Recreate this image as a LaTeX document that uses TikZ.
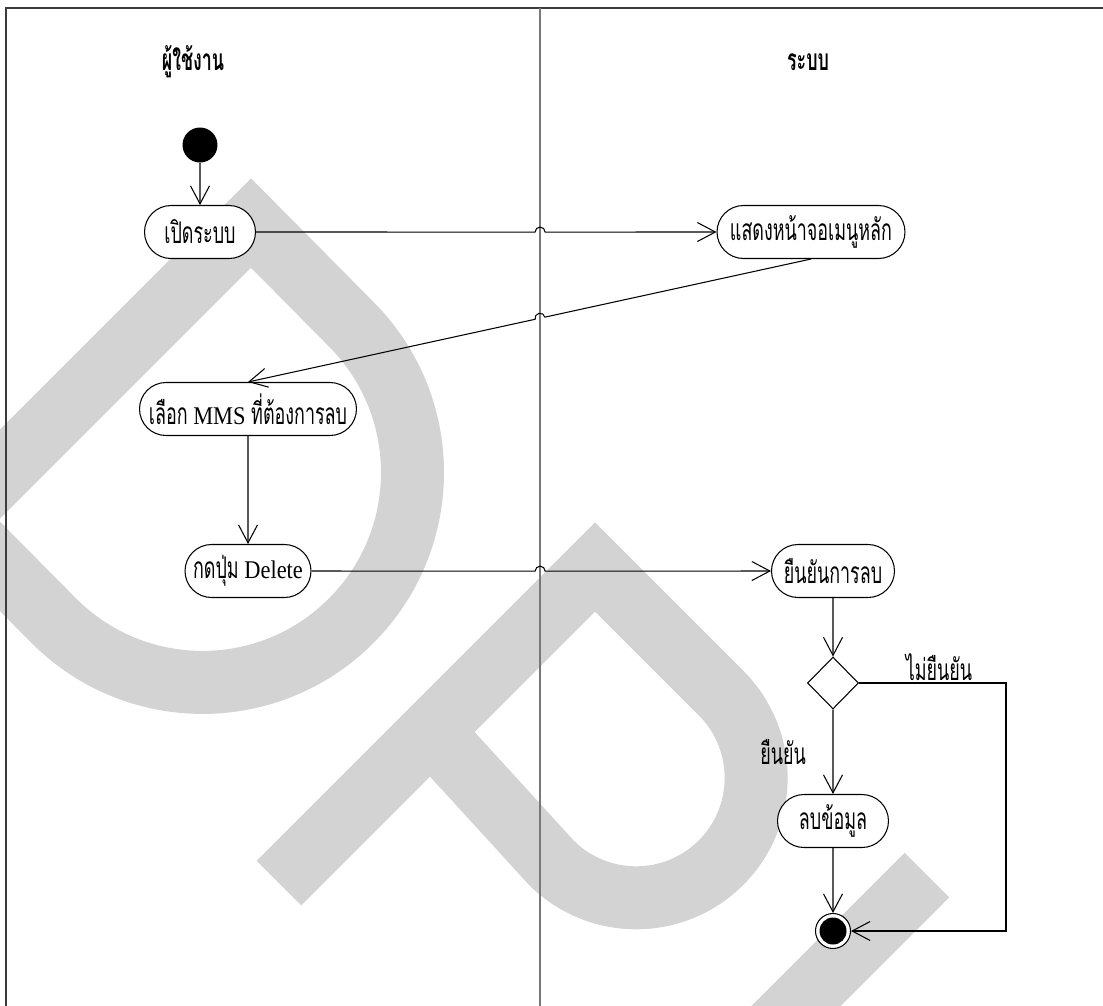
\documentclass[tikz,border=0pt]{standalone}
\usepackage{fontspec}
\setmainfont[FakeStretch=0.88]{Liberation Serif}
\newfontfamily\thaifont[Script=Thai,FakeStretch=0.6]{Loma}
\usetikzlibrary{shapes.misc,shapes.geometric,arrows.meta,calc}
\definecolor{wm}{RGB}{211,211,211}
\definecolor{framec}{RGB}{60,60,60}
\definecolor{divc}{RGB}{120,120,120}
\begin{document}
\begin{tikzpicture}[x=0.02cm,y=-0.02cm,
  act/.style={rounded rectangle, draw, fill=white, line width=0.6pt,
    minimum height=1.06cm, inner sep=0pt, font=\fontsize{14.5}{18}\selectfont},
  th/.style={font=\thaifont\fontsize{17}{20}\selectfont},
  arr/.style={line width=0.6pt, -{Straight Barb[length=0.36cm,width=0.38cm]}},
  wmark/.style={draw=wm, line width=1.26cm, line join=miter, line cap=butt},
  lbl/.style={font=\thaifont\fontsize{17}{20}\selectfont, inner sep=0pt},
  head/.style={font=\thaifont\bfseries\fontsize{17}{20}\selectfont, inner sep=0pt}]
\newcommand\thx[1]{{\thaifont\fontsize{17}{20}\selectfont #1}}
\useasboundingbox (0,0) rectangle (1103,1005);
% watermark
\begin{scope}
\clip (0,0) rectangle (1103,1005);
\draw[wmark] (-46,520) -- (251,223) -- (351,324) arc[start angle=45, end angle=-135, radius=4.2cm] -- cycle;
\draw[wmark] (279,883) -- (595,567) -- (721,693) arc[start angle=45, end angle=-135, radius=2.4cm] -- (431,731);
\draw[wmark] (927,875) -- (700,1102);
\end{scope}
% frame and lanes
\draw[framec, line width=1.1pt] (6,1010) -- (6,8) -- (1110,8);
\coordinate (dtop) at (540,8);
\coordinate (dbot) at (540,1010);
\draw[divc, line width=0.9pt] (dtop) -- (dbot);
\node[head] (h1) at (193,62) {ผู้ใช้งาน};
\node[head] (h2) at (808,62) {ระบบ};
% nodes
\node[circle, fill=black, minimum size=0.7cm, inner sep=0pt] (start) at (200,145) {};
\node[act, minimum width=2.22cm] (n1) at (200,232) {\thx{เปิดระบบ}};
\node[act, minimum width=3.76cm] (n2) at (811,232) {\thx{แสดงหน้าจอเมนูหลัก}};
\node[act, minimum width=4.34cm] (n3) at (248,409) {\thx{เลือก} MMS \thx{ที่ต้องการลบ}};
\node[act, minimum width=2.52cm] (n4) at (248,571) {\thx{กดปุ่ม} Delete};
\node[act, minimum width=2.46cm] (n5) at (833,571) {\thx{ยืนยันการลบ}};
\node[diamond, draw, fill=white, line width=0.6pt, minimum width=1.02cm, minimum height=1.04cm, inner sep=0pt] (dec) at (833,683) {};
\node[act, minimum width=2.22cm] (n6) at (833,821) {\thx{ลบข้อมูล}};
\node[circle, draw, fill=white, line width=0.6pt, minimum size=0.7cm, inner sep=0pt,
  path picture={\fill[black] (path picture bounding box.center) circle (0.27cm);}] (end) at (833,931) {};
\coordinate (rc) at (1006,800);
\node[lbl] (l1) at (939,667) {ไม่ยืนยัน};
\node[lbl] (l2) at (783,752) {ยืนยัน};
% connectors
\coordinate (j1) at (intersection of n1.east--n2.west and dtop--dbot);
\coordinate (j2) at (intersection of n2.south--n3.north and dtop--dbot);
\coordinate (j3) at (intersection of n4.east--n5.west and dtop--dbot);
\draw[arr] (start) -- (n1);
\draw[arr] (n1.east) -- ($(j1)+(-5,0)$) arc[start angle=180, end angle=0, radius=0.1cm] -- (n2.west);
\draw[arr] let \p1=($(n2.south)-(j2)$), \n1={atan2(\y1,\x1)} in
  (n2.south) -- ($(j2)!0.1cm!(n2.south)$) arc[start angle=\n1, delta angle=180, radius=0.1cm] -- (n3.north);
\draw[arr] (n3) -- (n4);
\draw[arr] (n4.east) -- ($(j3)+(-5,0)$) arc[start angle=180, end angle=0, radius=0.1cm] -- (n5.west);
\draw[arr] (n5) -- (dec);
\draw[arr] (dec) -- (n6);
\draw[arr] (n6) -- (end);
\draw[arr] (dec.east) -| (rc) |- (end.east);
\end{tikzpicture}
\end{document}
